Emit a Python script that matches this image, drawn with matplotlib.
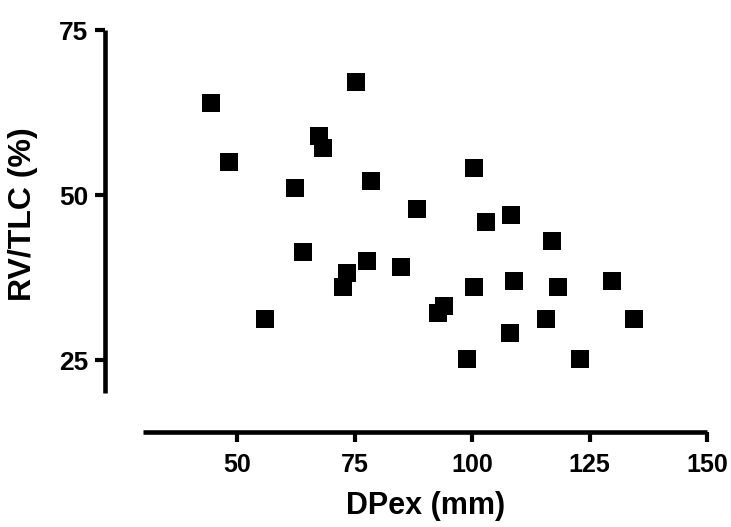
import matplotlib
matplotlib.use('Agg')
import matplotlib.pyplot as plt

plt.rcParams['font.family'] = ['Liberation Sans', 'DejaVu Sans']
plt.rcParams['font.weight'] = 'bold'

# DPex (mm) vs RV/TLC (%)
dpex = [44.5, 48.3, 75.3, 67.4, 68.3, 62.3, 78.5, 88.3, 100.4, 64.0,
        77.7, 84.9, 73.4, 72.6, 56.0, 100.4, 92.8, 94.0, 98.9, 103.0,
        108.3, 117.0, 108.9, 118.3, 129.8, 115.7, 134.5, 108.1, 123.0]
rv_tlc = [63.9, 55.0, 67.1, 58.9, 57.1, 51.1, 52.1, 47.9, 54.1, 41.4,
          40.0, 39.1, 38.2, 36.1, 31.2, 36.1, 32.1, 33.2, 25.2, 45.9,
          47.0, 43.0, 37.0, 36.1, 37.0, 31.2, 31.2, 29.1, 25.2]

x_ticks = [50, 75, 100, 125, 150]
y_ticks = [25, 50, 75]

fig = plt.figure(figsize=(7.31, 5.27), dpi=100)
ax = fig.add_axes([105 / 731, 1 - 432 / 527, 602 / 731, 402 / 527])

ax.scatter(dpex, rv_tlc, marker='s', s=170, color='black',
           linewidths=0, clip_on=False, zorder=3)

# Prism-style detached axes
ax.set_xlim(21.9, 150)
ax.set_ylim(14.1, 75)
for side in ('top', 'right'):
    ax.spines[side].set_visible(False)
for side in ('left', 'bottom'):
    ax.spines[side].set_linewidth(3.3)
    ax.spines[side].set_capstyle('butt')
ax.spines['left'].set_bounds(20, 75)
ax.spines['bottom'].set_bounds(30, 150)

ax.set_xticks(x_ticks)
ax.set_yticks(y_ticks)
ax.tick_params(axis='both', direction='out', width=3, length=7, color='black')
ax.tick_params(axis='x', labelsize=18, pad=8)
ax.tick_params(axis='y', labelsize=19, pad=5)

fig.text(426 / 731, 1 - 506 / 527, 'DPex (mm)', fontsize=22,
         fontweight='bold', ha='center', va='center')
fig.text(23 / 731, 1 - 214 / 527, 'RV/TLC (%)', fontsize=23,
         fontweight='bold', ha='center', va='center', rotation=90)

fig.savefig('out.png', dpi=100)
